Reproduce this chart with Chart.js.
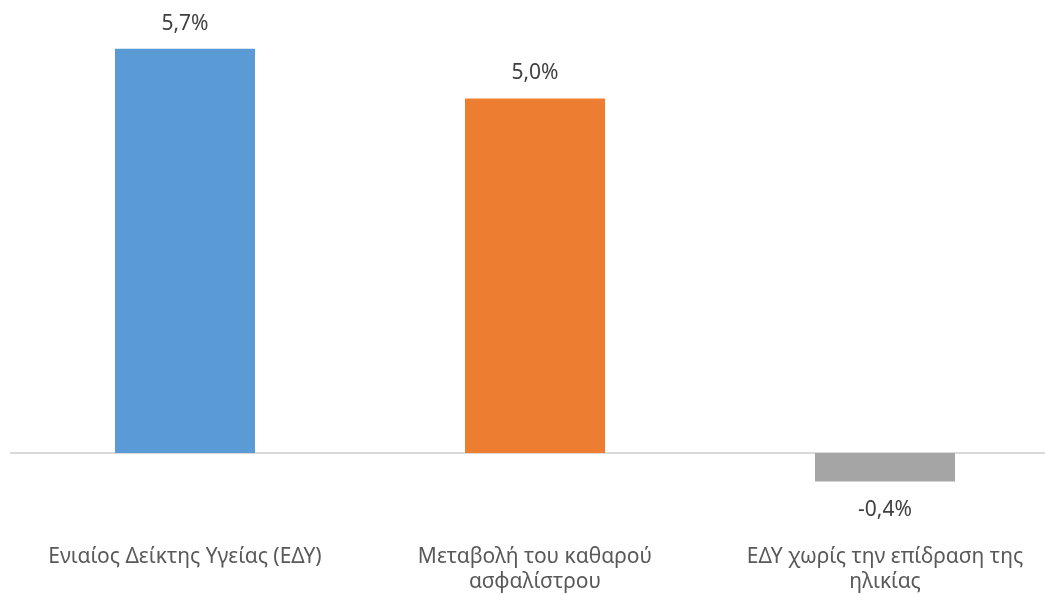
<!DOCTYPE html>
<html>
<head>
<meta charset="utf-8">
<script src="https://cdn.jsdelivr.net/npm/chart.js@4.4.1/dist/chart.umd.min.js"></script>
<style>
  html, body { margin: 0; padding: 0; background: #fff; overflow: hidden; }
  #wrap { width: 1060px; height: 595px; }
</style>
</head>
<body>
<div id="wrap"><canvas id="chart" width="1060" height="595"></canvas></div>
<script>
const categories = [
    ['Ενιαίος Δείκτης Υγείας (ΕΔΥ)'],
    ['Μεταβολή του καθαρού', 'ασφαλίστρου'],
    ['ΕΔΥ χωρίς την επίδραση της', 'ηλικίας']
];
const values = [5.7, 5.0, -0.4];
const barColors = ['#5B9BD5', '#ED7D31', '#A5A5A5'];

const FONT = '"Noto Sans", "Open Sans", sans-serif';

// zero line + value labels above / below each bar
const barLabels = {
    id: 'barLabels',
    beforeDatasetsDraw(chart) {
        const { ctx, chartArea, scales } = chart;
        const y0 = scales.y.getPixelForValue(0);
        ctx.save();
        ctx.strokeStyle = '#d9d9d9';
        ctx.lineWidth = 2;
        ctx.beginPath();
        ctx.moveTo(chartArea.left, y0);
        ctx.lineTo(chartArea.right, y0);
        ctx.stroke();
        ctx.restore();
    },
    afterDatasetsDraw(chart) {
        const { ctx } = chart;
        const meta = chart.getDatasetMeta(0);
        ctx.save();
        ctx.font = '21px ' + FONT;
        ctx.fillStyle = '#404040';
        ctx.textAlign = 'center';
        ctx.textBaseline = 'middle';
        meta.data.forEach((bar, i) => {
            const v = values[i];
            const txt = v.toFixed(1).replace('.', ',') + '%';
            const y = v >= 0 ? bar.y - 25 : bar.y + 29;
            ctx.fillText(txt, bar.x, y);
        });
        ctx.restore();
    }
};

new Chart(document.getElementById('chart'), {
    type: 'bar',
    data: {
        labels: categories,
        datasets: [{
            data: values,
            backgroundColor: barColors,
            borderWidth: 0,
            barPercentage: 0.4,
            categoryPercentage: 1.0
        }]
    },
    options: {
        responsive: false,
        animation: false,
        layout: { padding: { left: 10, right: 0, top: 27.6, bottom: 0 } },
        plugins: {
            legend: { display: false },
            tooltip: { enabled: false }
        },
        scales: {
            x: {
                grid: { display: false, drawTicks: false },
                border: { display: false },
                ticks: {
                    color: '#595959',
                    font: { family: FONT, size: 21, lineHeight: 1.2 },
                    padding: 56,
                    maxRotation: 0,
                    autoSkip: false
                },
                afterFit(scale) {
                    scale.height = 106.5;
                    // labels fit inside their categories, no side padding needed
                    scale.paddingLeft = 0;
                    scale.paddingRight = 0;
                }
            },
            y: {
                display: false,
                min: -0.5,
                max: 6.0
            }
        }
    },
    plugins: [barLabels]
});
</script>
</body>
</html>
